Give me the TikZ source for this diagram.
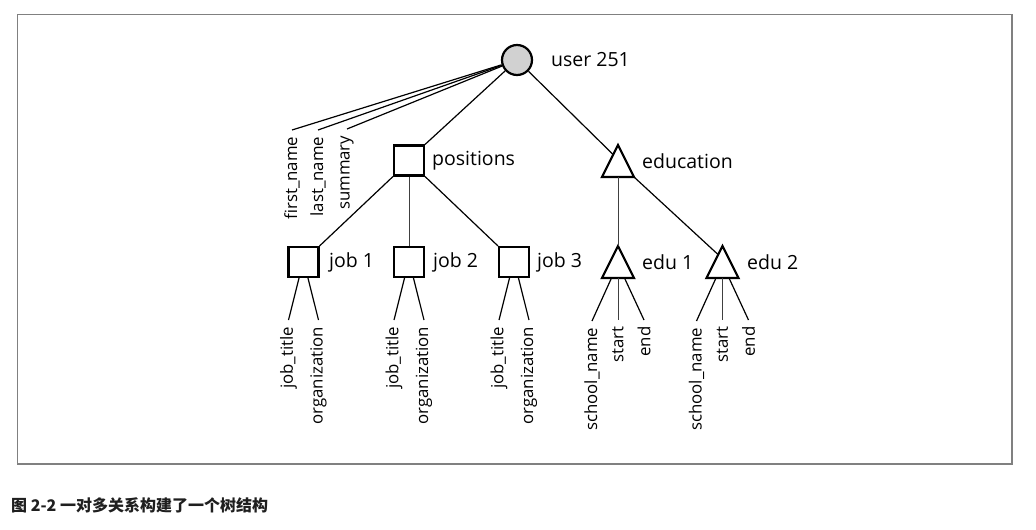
\documentclass[tikz,border=0pt]{standalone}
\usepackage{fontspec}
\setmainfont{Open Sans}
\newfontfamily\cjk{Noto Sans CJK SC}
\usetikzlibrary{calc}
\begin{document}
\begin{tikzpicture}[x=1pt,y=-1pt,
  objnode/.style={draw, line width=2.2pt, minimum size=30pt, inner sep=0pt},
  trinode/.style={minimum size=32pt, inner sep=0pt, outer sep=0pt},
  tri/.style={line width=2.2pt},
  conn/.style={line width=1.2pt},
  vconn/.style={line width=0.9pt, color=black!75},
  bigtxt/.style={anchor=west, inner sep=0pt, font=\fontsize{19.5}{21}\selectfont},
  smalltxt/.style={rotate=90, anchor=east, inner xsep=6.5pt, inner ysep=0pt, font=\fontsize{16.8}{18}\selectfont}
]
\useasboundingbox (0,0) rectangle (1036,530);
\draw[color=black!50, line width=1.2pt] (17.5,14.5) rectangle (1012,464);

% nodes
\node[objnode, circle, fill=black!18, minimum size=30pt] (u) at (517,60) {};
\node[bigtxt] (ut) at (551,60) {user 251};

\node[objnode] (pos) at (409,160.5) {};
\node[bigtxt] (post) at (432,160.5) {positions};

\node[trinode] (edu) at (618,161) {};
\draw[tri] (edu.north) -- (edu.south east) -- (edu.south west) -- cycle;
\node[bigtxt] (edut) at (642,161) {education};

\node[objnode] (j1) at (303.5,262) {};
\node[bigtxt] (j1t) at (329,262) {job 1};
\node[objnode] (j2) at (409,262) {};
\node[bigtxt] (j2t) at (433,262) {job 2};
\node[objnode] (j3) at (514,262) {};
\node[bigtxt] (j3t) at (537,262) {job 3};

\node[trinode] (e1) at (618,262) {};
\draw[tri] (e1.north) -- (e1.south east) -- (e1.south west) -- cycle;
\node[bigtxt] (e1t) at (642,262) {edu 1};
\node[trinode] (e2) at (722.5,262) {};
\draw[tri] (e2.north) -- (e2.south east) -- (e2.south west) -- cycle;
\node[bigtxt] (e2t) at (747,262) {edu 2};

% user attributes
\node[smalltxt] (fn) at (292,130) {first\_name};
\node[smalltxt] (ln) at (318,130) {last\_name};
\node[smalltxt] (sm) at (347,129) {summary};
\draw[conn] (u) -- (fn.east);
\draw[conn] (u) -- (ln.east);
\draw[conn] (u) -- (sm.east);

% tree edges
\draw[conn] (u) -- (pos.north east);
\draw[conn] (u) -- ($(edu.north)!0.3!(edu.south west)$);
\draw[conn] (pos.south west) -- (j1.north east);
\draw[vconn] (pos.south) -- (j2.north);
\draw[conn] (pos.south east) -- (j3.north west);
\draw[vconn] (edu.south) -- (e1.north);
\draw[conn] (edu.south east) -- ($(e2.north)!0.27!(e2.south west)$);

% job attributes
\foreach \j in {j1,j2,j3}{
  \node[smalltxt] (\j a) at ($(\j.center)+(-15,58)$) {job\_title};
  \node[smalltxt] (\j b) at ($(\j.center)+(15,58)$) {organization};
  \draw[conn] ($(\j.south)+(-4.5,0)$) -- (\j a.east);
  \draw[conn] ($(\j.south)+(4.5,0)$) -- (\j b.east);
}

% edu attributes
\foreach \e in {e1,e2}{
  \node[smalltxt] (\e a) at ($(\e.center)+(-26,59)$) {school\_name};
  \node[smalltxt] (\e b) at ($(\e.center)+(0,58)$) {start};
  \node[smalltxt] (\e c) at ($(\e.center)+(26,58)$) {end};
  \draw[conn] ($(\e.south)+(-6.5,0)$) -- (\e a.east);
  \draw[vconn] (\e.south) -- (\e b.east);
  \draw[conn] ($(\e.south)+(6.5,0)$) -- (\e c.east);
}

\node[anchor=west, inner sep=0pt, text=black!88, font=\cjk\bfseries\fontsize{16}{18}\selectfont] (cap) at (11,505.5) {图 2-2 一对多关系构建了一个树结构};
\end{tikzpicture}
\end{document}
